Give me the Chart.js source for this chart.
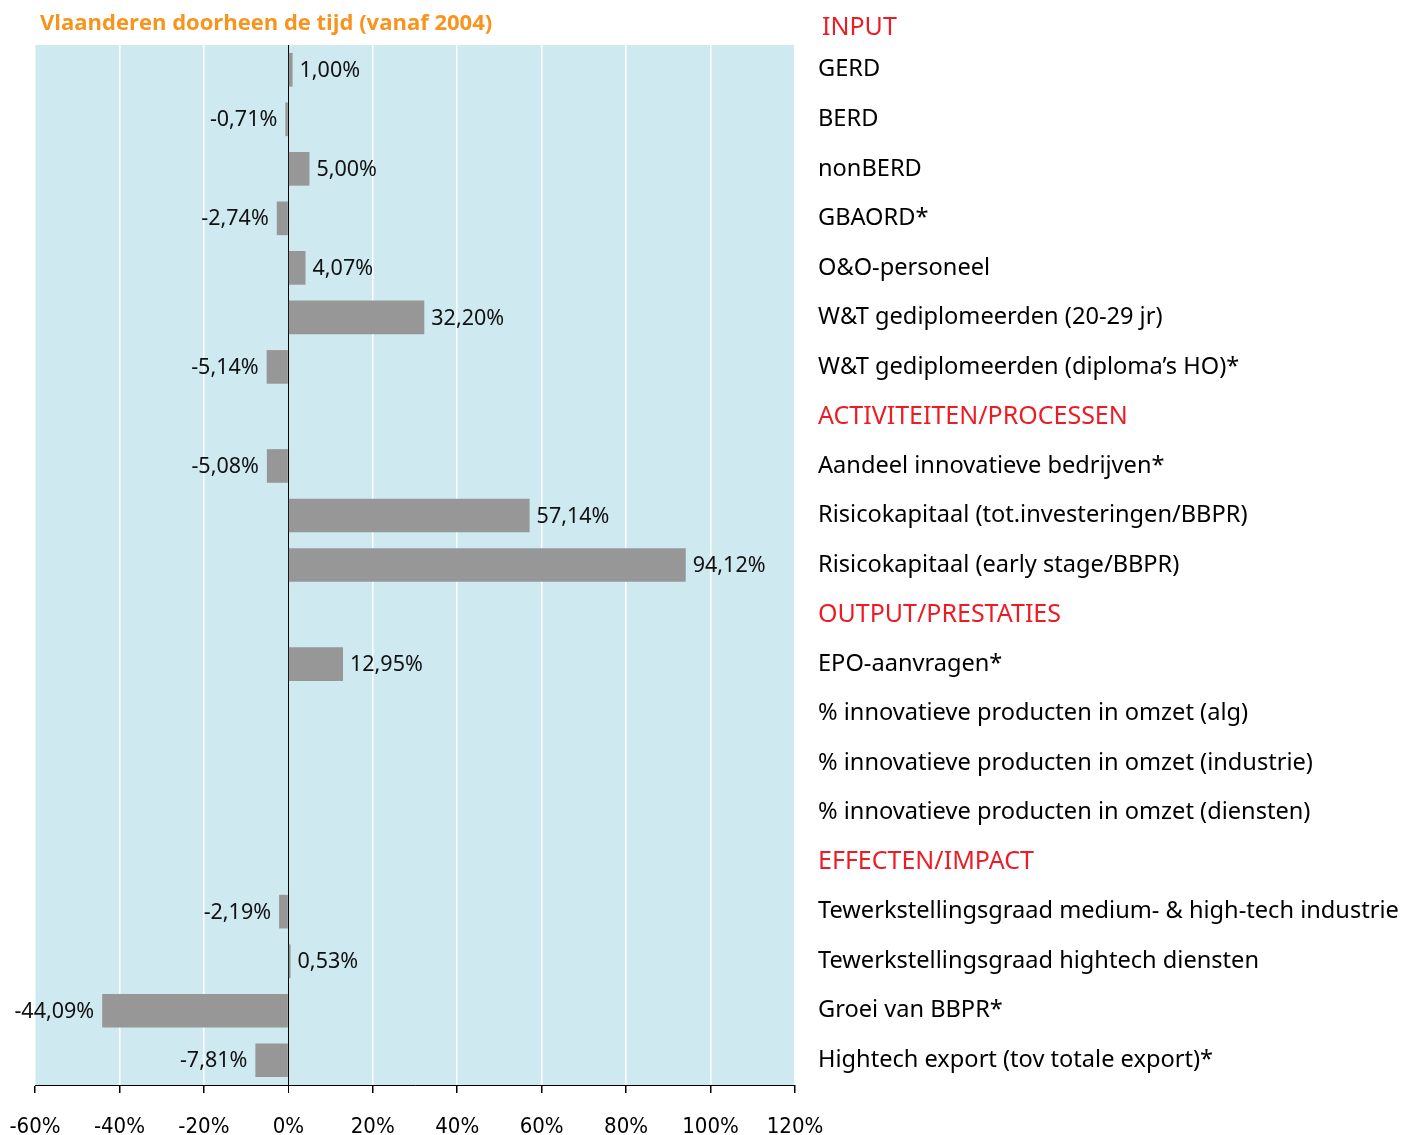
<!DOCTYPE html>
<html>
<head>
<meta charset="utf-8">
<script src="https://cdn.jsdelivr.net/npm/chart.js@4/dist/chart.umd.min.js"></script>
<style>
  html, body { margin: 0; padding: 0; background: #fff; }
  #wrap { width: 1416px; height: 1135px; position: relative; }
</style>
</head>
<body>
<div id="wrap"><canvas id="tijdChart"></canvas></div>
<script>
// indicatoren (rijen zonder waarde = sectiekop of geen gegevens)
const categories = [
    "GERD",
    "BERD",
    "nonBERD",
    "GBAORD*",
    "O&O-personeel",
    "W&T gediplomeerden (20-29 jr)",
    "W&T gediplomeerden (diploma’s HO)*",
    "ACTIVITEITEN/PROCESSEN",
    "Aandeel innovatieve bedrijven*",
    "Risicokapitaal (tot.investeringen/BBPR)",
    "Risicokapitaal (early stage/BBPR)",
    "OUTPUT/PRESTATIES",
    "EPO-aanvragen*",
    "% innovatieve producten in omzet (alg)",
    "% innovatieve producten in omzet (industrie)",
    "% innovatieve producten in omzet (diensten)",
    "EFFECTEN/IMPACT",
    "Tewerkstellingsgraad medium- & high-tech industrie",
    "Tewerkstellingsgraad hightech diensten",
    "Groei van BBPR*",
    "Hightech export (tov totale export)*",
];
const sectionHeaders = ["ACTIVITEITEN/PROCESSEN", "OUTPUT/PRESTATIES", "EFFECTEN/IMPACT"];
const firstHeader = "INPUT";

// groei in % sinds 2004
const growth = [
    1.00, -0.71, 5.00, -2.74, 4.07, 32.20, -5.14,
    null,
    -5.08, 57.14, 94.12,
    null,
    12.95, null, null, null,
    null,
    -2.19, 0.53, -44.09, -7.81,
];

const xTicks = [-60, -40, -20, 0, 20, 40, 60, 80, 100, 120];

const titleText = "Vlaanderen doorheen de tijd (vanaf 2004)";

const RED = "#ED1C24";
const ORANGE = "#F7941D";
const LABEL_FONT = "'Noto Sans', sans-serif";

function fmt(v) {
    return v.toFixed(2).replace(".", ",") + "%";
}

// ================= achtergrond, titel, waardelabels =================
const decorPlugin = {
    id: "decor",
    beforeDraw(chart) {
        const { ctx, chartArea: a } = chart;
        ctx.save();
        ctx.fillStyle = "#CEEAF0";
        ctx.fillRect(a.left, a.top, a.right - a.left, a.bottom - a.top);
        ctx.restore();
    },
    afterDraw(chart) {
        const { ctx, chartArea: a } = chart;
        ctx.save();
        // titel
        ctx.fillStyle = ORANGE;
        ctx.font = "bold 22px 'Open Sans', sans-serif";
        ctx.textAlign = "left";
        ctx.textBaseline = "middle";
        ctx.fillText(titleText, a.left + 5, a.top - 21);
        // eerste sectiekop staat boven het plotvlak
        ctx.fillStyle = RED;
        ctx.font = "25px " + LABEL_FONT;
        ctx.fillText(firstHeader, a.right + 27, a.top - 17);

        // waardelabels naast de balken
        const meta = chart.getDatasetMeta(0);
        ctx.fillStyle = "#111";
        ctx.font = "21.5px " + LABEL_FONT;
        meta.data.forEach((bar, i) => {
            const v = growth[i];
            if (v === null) return;
            if (v >= 0) {
                ctx.textAlign = "left";
                ctx.fillText(fmt(v), bar.x + 7, bar.y + 1);
            } else {
                ctx.textAlign = "right";
                ctx.fillText(fmt(v), bar.x - 8, bar.y + 1);
            }
        });
        ctx.restore();
    },
};

const ctx = document.getElementById("tijdChart").getContext("2d");
new Chart(ctx, {
    type: "bar",
    data: {
        labels: categories,
        datasets: [
            {
                data: growth,
                backgroundColor: "#979797",
                borderWidth: 0,
                barPercentage: 0.68,
                categoryPercentage: 1,
            },
        ],
    },
    options: {
        indexAxis: "y",
        responsive: true,
        maintainAspectRatio: false,
        animation: false,
        layout: { padding: { top: 45, left: 35, right: 0, bottom: 0 } },
        plugins: {
            legend: { display: false },
            tooltip: { enabled: false },
        },
        scales: {
            x: {
                min: -60,
                max: 120,
                afterBuildTicks: (scale) => {
                    scale.ticks = xTicks.map((v) => ({ value: v }));
                },
                afterFit: (scale) => {
                    scale.height = 50;
                    scale.paddingLeft = 0;
                    scale.paddingRight = 0;
                },
                grid: {
                    color: (c) => (c.tick && c.tick.value === 0 ? "#000" : "#fff"),
                    lineWidth: (c) => (c.tick && c.tick.value === 0 ? 1 : 1.5),
                    tickColor: "#000",
                    tickLength: 8,
                },
                border: { display: true, color: "#000", width: 1 },
                ticks: {
                    color: "#000",
                    padding: 21,
                    font: { family: "'DejaVu Sans Condensed', sans-serif", size: 22 },
                    callback: (v) => v + "%",
                },
            },
            y: {
                position: "right",
                afterFit: (scale) => {
                    scale.width = 621;
                },
                grid: { display: false, drawTicks: false },
                border: { display: false },
                ticks: {
                    padding: 23,
                    autoSkip: false,
                    color: (c) => (sectionHeaders.includes(categories[c.index]) ? RED : "#000"),
                    font: (c) => ({
                        family: "'Noto Sans', sans-serif",
                        size: sectionHeaders.includes(categories[c.index]) ? 25 : 23.6,
                    }),
                },
            },
        },
    },
    plugins: [decorPlugin],
});
</script>
</body>
</html>
